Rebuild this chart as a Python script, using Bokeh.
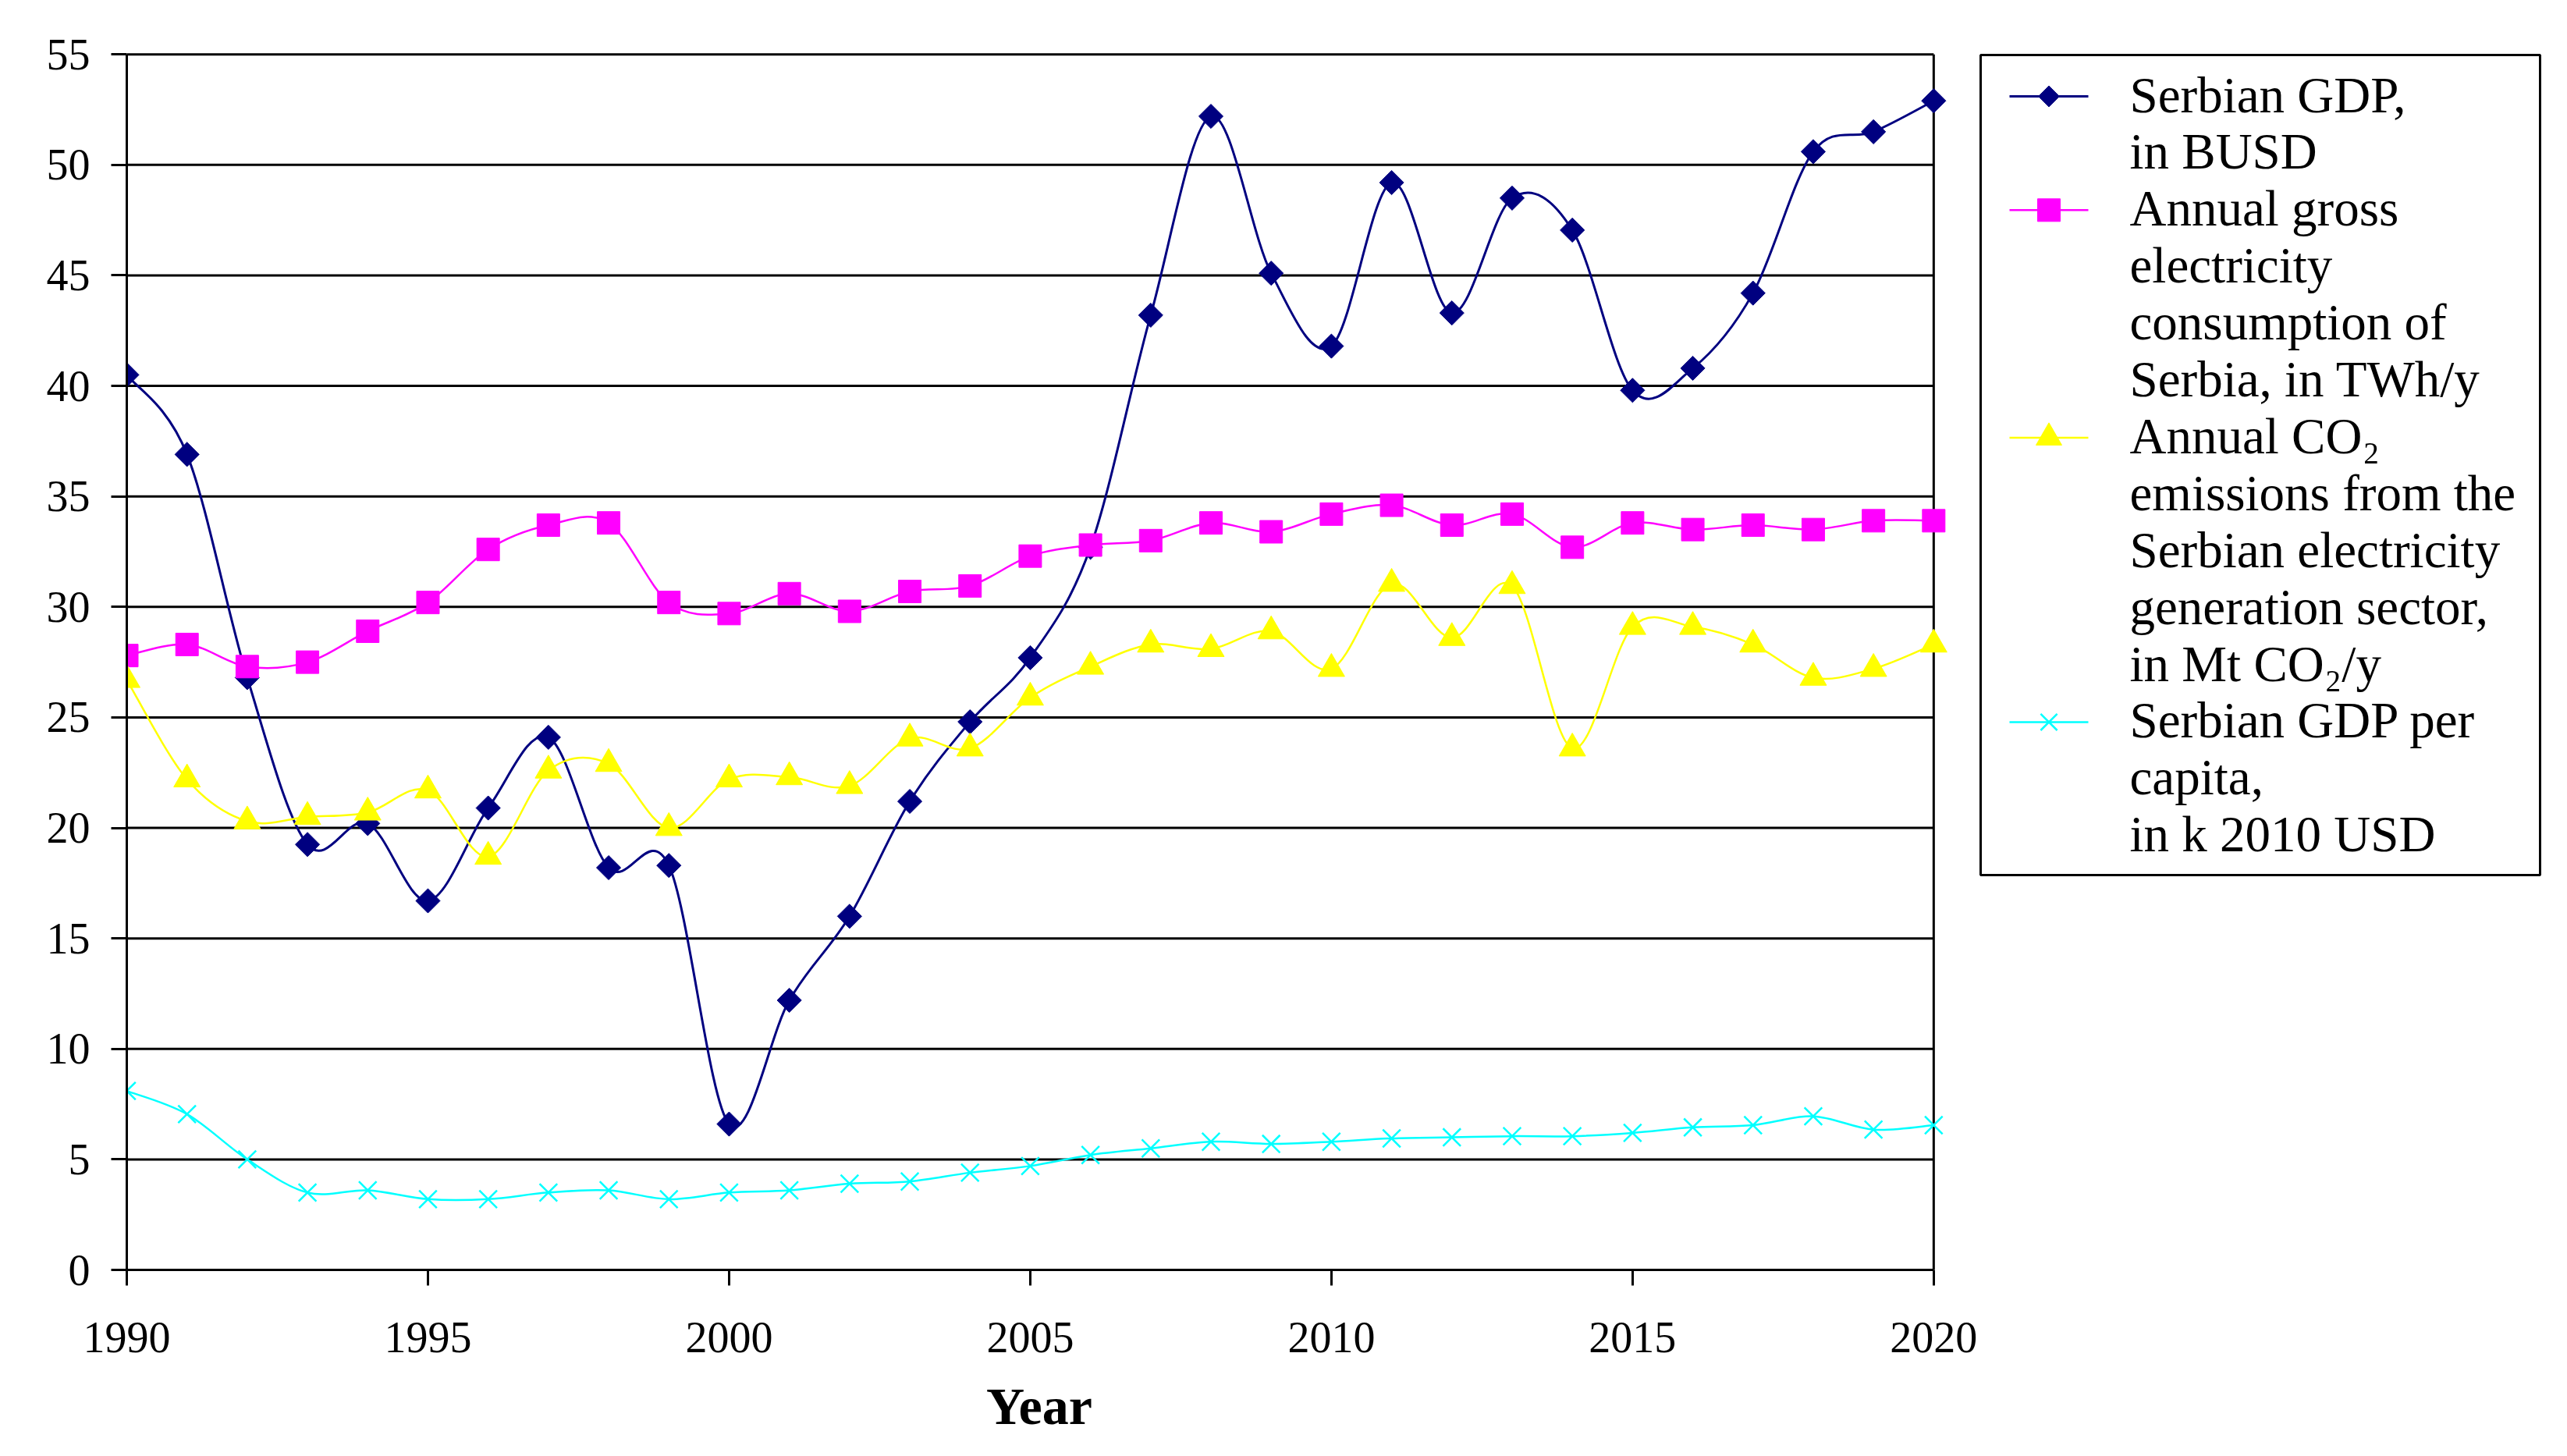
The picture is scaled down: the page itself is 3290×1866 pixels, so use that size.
import numpy as np
from bokeh.plotting import figure
from bokeh.layouts import row
from bokeh.models import Range1d, FixedTicker
from bokeh.core.properties import value
from bokeh.embed import file_html
from bokeh.resources import INLINE

# ---------------- data ----------------
YEARS = list(range(1990, 2021))
GDP = [40.5, 36.9, 26.8, 19.25, 20.2, 16.7, 20.9, 24.1, 18.2, 18.3,
       6.6, 12.2, 16.0, 21.2, 24.8, 27.7, 32.7, 43.2, 52.2, 45.1,
       41.8, 49.2, 43.3, 48.5, 47.05, 39.8, 40.8, 44.2, 50.6, 51.5, 52.9]
ELEC = [27.8, 28.3, 27.3, 27.5, 28.9, 30.2, 32.6, 33.7, 33.8, 30.2,
        29.7, 30.6, 29.8, 30.7, 30.95, 32.3, 32.8, 33.0, 33.8, 33.4,
        34.2, 34.6, 33.7, 34.2, 32.7, 33.8, 33.5, 33.7, 33.5, 33.9, 33.9]
CO2 = [26.7, 22.2, 20.3, 20.5, 20.7, 21.7, 18.7, 22.6, 22.9, 20.0,
       22.2, 22.3, 21.9, 24.05, 23.6, 25.9, 27.3, 28.3, 28.1, 28.9,
       27.2, 31.05, 28.6, 30.95, 23.6, 29.1, 29.1, 28.3, 26.8, 27.2, 28.3]
GDP_PC = [8.1, 7.05, 5.0, 3.5, 3.6, 3.2, 3.2, 3.5, 3.6, 3.2,
          3.5, 3.6, 3.9, 4.0, 4.4, 4.7, 5.2, 5.5, 5.8, 5.7,
          5.8, 5.95, 6.0, 6.05, 6.05, 6.2, 6.45, 6.55, 6.95, 6.35, 6.55]

X_TICKS = [1990, 1995, 2000, 2005, 2010, 2015, 2020]
Y_TICKS = [0, 5, 10, 15, 20, 25, 30, 35, 40, 45, 50, 55]

LABELS_GDP = ["Serbian GDP,", "in BUSD"]
LABELS_ELEC = ["Annual gross", "electricity", "consumption of", "Serbia, in TWh/y"]
LABELS_CO2 = ["Annual CO\u2082", "emissions from the", "Serbian electricity",
              "generation sector,", "in Mt CO\u2082/y"]
LABELS_PC = ["Serbian GDP per", "capita,", "in k 2010 USD"]

X_MIN, X_MAX = X_TICKS[0], X_TICKS[-1]
Y_MIN, Y_MAX = Y_TICKS[0], Y_TICKS[-1]

SERIF = "Liberation Serif"
H = 1850
B_TOP, B_BOTTOM = 65, 223

# ---------------- main chart ----------------
p = figure(width=2536, height=H,
           x_range=Range1d(X_MIN, X_MAX + 0.3),
           y_range=Range1d(Y_MIN, Y_MAX + 0.15),
           output_backend="svg", toolbar_location=None,
           min_border_left=162, min_border_right=35,
           min_border_top=B_TOP, min_border_bottom=B_BOTTOM)
p.background_fill_color = "white"
p.border_fill_color = "white"
p.outline_line_color = None
p.xgrid.visible = False
p.ygrid.visible = False

grid_y = [t for t in Y_TICKS if t > Y_MIN]
p.segment(x0=[X_MIN] * len(grid_y), x1=[X_MAX] * len(grid_y), y0=grid_y, y1=grid_y,
          line_color="black", line_width=3)
p.segment(x0=[X_MAX], x1=[X_MAX], y0=[Y_MIN], y1=[Y_MAX], line_color="black", line_width=3)


def smooth(x, y):
    x = np.asarray(x, float)
    y = np.asarray(y, float)
    n = len(x)
    xp = np.concatenate([[x[0]], x, [x[-1]]])
    yp = np.concatenate([[y[0]], y, [y[-1]]])
    cx0 = x[:-1] + (xp[2:n + 1] - xp[0:n - 1]) / 6.0
    cy0 = y[:-1] + (yp[2:n + 1] - yp[0:n - 1]) / 6.0
    cx1 = x[1:] - (xp[3:n + 2] - xp[1:n]) / 6.0
    cy1 = y[1:] - (yp[3:n + 2] - yp[1:n]) / 6.0
    return dict(x0=x[:-1], y0=y[:-1], x1=x[1:], y1=y[1:],
                cx0=cx0, cy0=cy0, cx1=cx1, cy1=cy1)


series = [
    (GDP, "#000080", dict(marker="square", angle=np.pi / 4, size=22), 3, LABELS_GDP,
     dict(marker="square", angle=np.pi / 4, size=19)),
    (ELEC, "#FF00FF", dict(marker="square", size=29), 2.5, LABELS_ELEC,
     dict(marker="square", size=29)),
    (CO2, "#FFFF00", dict(marker="triangle", size=34), 2.5, LABELS_CO2,
     dict(marker="triangle", size=33)),
    (GDP_PC, "#00FFFF", dict(marker="x", size=32, line_width=2.5), 2.5, LABELS_PC,
     dict(marker="x", size=30, line_width=2.5)),
]

for vals, col, mk, lw, labels, lmk in series:
    p.bezier(**smooth(YEARS, vals), line_color=col, line_width=lw)
    p.scatter(YEARS, vals, color=col, **mk)

for ax in (p.xaxis, p.yaxis):
    ax.axis_line_color = "black"
    ax.axis_line_width = 3
    ax.major_tick_line_color = "black"
    ax.major_tick_line_width = 3
    ax.major_tick_out = 20
    ax.major_tick_in = 0
    ax.minor_tick_out = 0
    ax.minor_tick_in = 0
    ax.major_label_text_font = SERIF
    ax.major_label_text_font_size = "56px"
    ax.major_label_text_color = "black"

p.xaxis.ticker = FixedTicker(ticks=X_TICKS)
p.xaxis.bounds = (X_MIN, X_MAX)
p.xaxis.major_label_standoff = 47
p.xaxis.axis_label = "Year"
p.xaxis.axis_label_text_font = SERIF
p.xaxis.axis_label_text_font_style = "bold"
p.xaxis.axis_label_text_font_size = "68px"
p.xaxis.axis_label_text_color = "black"
p.xaxis.axis_label_standoff = 28

p.yaxis.ticker = FixedTicker(ticks=Y_TICKS)
p.yaxis.bounds = (Y_MIN, Y_MAX)
p.yaxis.major_label_standoff = 27

# ---------------- legend panel (screen-pixel coordinates) ----------------
LW = 738
lg = figure(width=LW, height=H, x_range=Range1d(0, LW),
            y_range=Range1d(H - B_BOTTOM, B_TOP),
            output_backend="svg", toolbar_location=None,
            x_axis_type=None, y_axis_type=None,
            min_border_left=0, min_border_right=0,
            min_border_top=B_TOP, min_border_bottom=B_BOTTOM)
lg.outline_line_color = None
lg.background_fill_color = "white"
lg.border_fill_color = "white"

BOX_L, BOX_R, BOX_T, BOX_B = 2, 719, 70, 1121
lg.quad(left=[BOX_L], right=[BOX_R], top=[BOX_T], bottom=[BOX_B],
        fill_color="white", line_color="black", line_width=3)

MARK_Y0, TEXT_Y0, ROW_H = 123.0, 121.0, 72.9
TEXT_X, SAMPLE_X0, SAMPLE_X1 = 193, 39, 140
all_labels, text_y = [], []
k = 0
for vals, col, mk, lw, labels, lmk in series:
    ym = MARK_Y0 + k * ROW_H
    lg.segment(x0=[SAMPLE_X0], x1=[SAMPLE_X1], y0=[ym], y1=[ym], line_color=col, line_width=lw)
    lg.scatter(x=[(SAMPLE_X0 + SAMPLE_X1) / 2], y=[ym], color=col, **lmk)
    for lab in labels:
        all_labels.append(lab)
        text_y.append(TEXT_Y0 + k * ROW_H)
        k += 1

lg.text(x=[TEXT_X] * len(all_labels), y=text_y, text=all_labels,
        text_font=value(SERIF), text_font_size="65px", text_color="black",
        text_align="left", text_baseline="alphabetic")

layout = row(p, lg)
open("out.html", "w").write(file_html(layout, INLINE))
